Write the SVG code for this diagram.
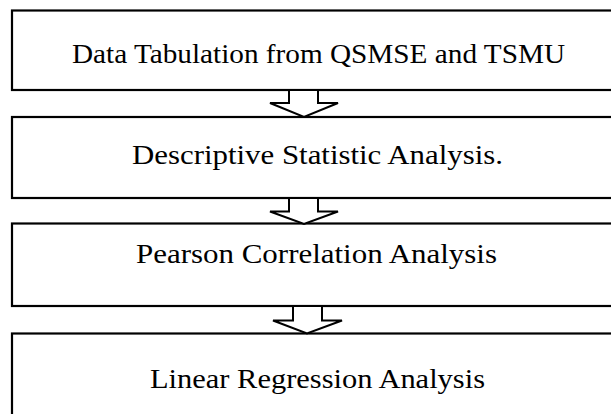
<svg xmlns="http://www.w3.org/2000/svg" width="611" height="414" viewBox="0 0 611 414">
  <style>
    .box { fill: #ffffff; stroke: #000000; stroke-width: 2.2; }
    .arrow { fill: #ffffff; stroke: #000000; stroke-width: 2; stroke-linejoin: miter; }
    .label { font-family: "Liberation Serif", "Times New Roman", serif; font-size: 28px; fill: #000000; text-anchor: middle; }
  </style>
  <rect width="611" height="414" fill="#ffffff"/>

  <g id="node-tabulation">
    <rect class="box" x="12" y="10.5" width="620" height="79.5"/>
    <text class="label" x="318.5" y="63" textLength="493" lengthAdjust="spacingAndGlyphs">Data Tabulation from QSMSE and TSMU</text>
  </g>

  <g id="node-descriptive">
    <rect class="box" x="12" y="117" width="620" height="81"/>
    <text class="label" x="317.5" y="164" textLength="371" lengthAdjust="spacingAndGlyphs">Descriptive Statistic Analysis.</text>
  </g>

  <g id="node-pearson">
    <rect class="box" x="12" y="223.5" width="620" height="82.5"/>
    <text class="label" x="316.5" y="263" textLength="361" lengthAdjust="spacingAndGlyphs">Pearson Correlation Analysis</text>
  </g>

  <g id="node-regression">
    <rect class="box" x="12" y="333.5" width="620" height="100"/>
    <text class="label" x="317.5" y="388" textLength="335" lengthAdjust="spacingAndGlyphs">Linear Regression Analysis</text>
  </g>

  <g id="connectors">
    <polygon class="arrow" points="289,90 318,90 318,103 338,103 304,117 270,103 289,103"/>
    <polygon class="arrow" points="289,198 318,198 318,211.5 338,211.5 304,224 270,211.5 289,211.5"/>
    <polygon class="arrow" points="293,306 322,306 322,320.5 342,320.5 307,333.5 273,320.5 293,320.5"/>
  </g>
</svg>
